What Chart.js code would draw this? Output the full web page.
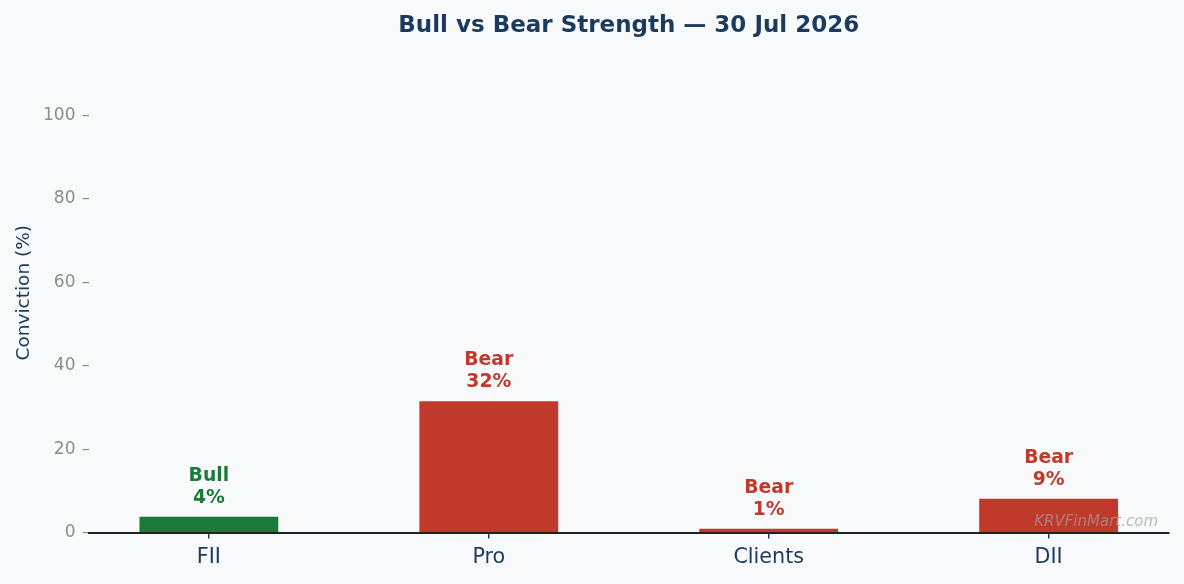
<!DOCTYPE html>
<html>
<head>
<meta charset="utf-8">
<script src="https://cdn.jsdelivr.net/npm/chart.js@4.4.1/dist/chart.umd.min.js"></script>
<style>
  html, body { margin: 0; padding: 0; background: #f8f9fb; }
  canvas { display: block; }
</style>
</head>
<body>
<canvas id="chart" width="1184" height="584"></canvas>
<script>
const categories = ['FII', 'Pro', 'Clients', 'DII'];
const conviction = [3.75, 31.5, 0.9, 8.1];
const sides = ['Bull', 'Bear', 'Bear', 'Bear'];
const shownPct = [4, 32, 1, 9];
const yTicks = [0, 20, 40, 60, 80, 100];

const NAVY = '#1b3a5c';
const GREEN = '#1b7a3a';
const RED = '#c0392b';
const FONT = "'DejaVu Sans', sans-serif";

const sideColor = s => (s === 'Bull' ? GREEN : RED);

// labels above bars + watermark + title over plot area
const extras = {
  id: 'extras',
  afterDatasetsDraw(chart) {
    const { ctx, chartArea, scales } = chart;
    ctx.save();
    ctx.textAlign = 'center';
    ctx.textBaseline = 'alphabetic';
    ctx.font = 'bold 18.8px ' + FONT;
    conviction.forEach((v, i) => {
      const x = scales.x.getPixelForValue(i);
      const y = scales.y.getPixelForValue(v) - 14;
      ctx.fillStyle = sideColor(sides[i]);
      ctx.fillText(shownPct[i] + '%', x, y);
      ctx.fillText(sides[i], x, y - 22);
    });

    // watermark
    ctx.font = 'italic 15px ' + FONT;
    ctx.textAlign = 'right';
    ctx.fillStyle = 'rgba(160,160,160,0.7)';
    ctx.fillText('KRVFinMart.com', chartArea.right - 11, chartArea.bottom - 7);

    // title
    ctx.font = 'bold 23px ' + FONT;
    ctx.textAlign = 'center';
    ctx.fillStyle = NAVY;
    ctx.fillText('Bull vs Bear Strength \u2014 30 Jul 2026', (chartArea.left + chartArea.right) / 2, 32);
    ctx.restore();
  }
};

new Chart(document.getElementById('chart'), {
  type: 'bar',
  data: {
    datasets: [{
      data: categories.map((c, i) => ({ x: i, y: conviction[i] })),
      backgroundColor: sides.map(sideColor),
      borderWidth: 0,
      barPercentage: 0.496,
      categoryPercentage: 1
    }]
  },
  options: {
    responsive: false,
    animation: false,
    devicePixelRatio: 1,
    layout: { padding: { top: 53, right: 15, left: 0, bottom: 0 } },
    plugins: {
      legend: { display: false },
      tooltip: { enabled: false }
    },
    scales: {
      x: {
        type: 'linear',
        min: -0.43,
        max: 3.43,
        offset: false,
        afterBuildTicks: scale => { scale.ticks = categories.map((c, i) => ({ value: i })); },
        afterFit: scale => { scale.height = 51.5; },
        grid: { drawOnChartArea: false, offset: false, color: NAVY, tickLength: 6, lineWidth: 1.5 },
        border: { color: '#222222', width: 2 },
        ticks: {
          color: NAVY,
          font: { family: FONT, size: 20.7 },
          padding: 7,
          maxRotation: 0,
          callback: v => categories[v]
        }
      },
      y: {
        min: 0,
        max: 115,
        afterBuildTicks: scale => { scale.ticks = yTicks.map(v => ({ value: v })); },
        afterFit: scale => { scale.width = 88.5; },
        grid: { drawOnChartArea: false, color: '#8c8c8c', tickLength: 6, lineWidth: 1.2 },
        border: { display: false },
        ticks: {
          color: '#8c8c8c',
          font: { family: FONT, size: 17 },
          padding: 7
        },
        title: {
          display: true,
          text: 'Conviction (%)',
          color: NAVY,
          font: { family: FONT, size: 18.5 },
          padding: { top: 13, bottom: 0 }
        }
      }
    }
  },
  plugins: [extras]
});
</script>
</body>
</html>
